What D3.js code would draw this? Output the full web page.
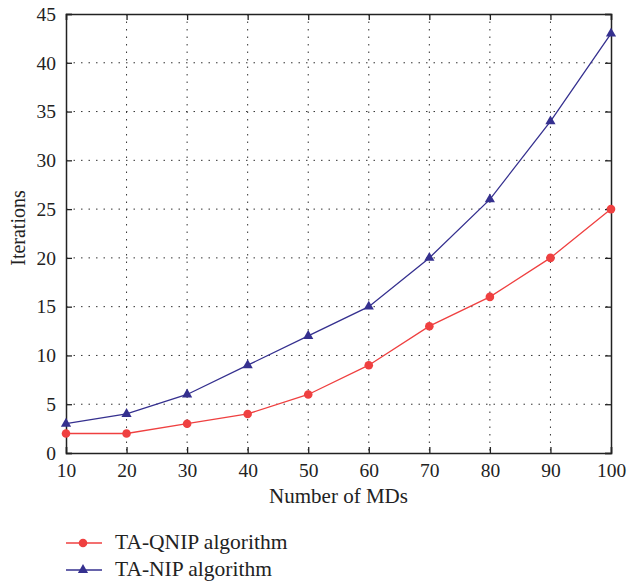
<!DOCTYPE html>
<html><head><meta charset="utf-8">
<script src="https://cdn.jsdelivr.net/npm/d3@7"></script>
<style>body{margin:0;background:#fff}svg{display:block}text{font-family:"Liberation Serif","DejaVu Serif",serif;fill:#222}</style>
</head><body>
<script>
const categories=[10,20,30,40,50,60,70,80,90,100];
const qnip=[2,2,3,4,6,9,13,16,20,25];
const nip=[3,4,6,9,12,15,20,26,34,43];
const yTicks=[0,5,10,15,20,25,30,35,40,45];
const seriesNames=["TA-QNIP algorithm","TA-NIP algorithm"];

const W=627,H=582;
const m={l:66,r:611,t:14,b:453};
const svg=d3.select("body").append("svg").attr("width",W).attr("height",H);
const x=d3.scaleLinear().domain([10,100]).range([m.l,m.r]);
const y=d3.scaleLinear().domain([0,45]).range([m.b,m.t]);

// grid
const g=svg.append("g");
categories.slice(1,-1).forEach(v=>g.append("line").attr("x1",x(v)).attr("x2",x(v)).attr("y1",m.t).attr("y2",m.b)
  .attr("stroke","#333").attr("stroke-width",1).attr("stroke-dasharray","1.5,6"));
yTicks.slice(1,-1).forEach(v=>g.append("line").attr("x1",m.l).attr("x2",m.r).attr("y1",y(v)).attr("y2",y(v))
  .attr("stroke","#333").attr("stroke-width",1).attr("stroke-dasharray","1.5,6"));

// axes
const xb=svg.append("g").attr("transform",`translate(0,${m.b})`).call(d3.axisBottom(x).tickValues(categories).tickSize(-6).tickPadding(10));
const xt=svg.append("g").attr("transform",`translate(0,${m.t})`).call(d3.axisTop(x).tickValues(categories).tickSize(-6).tickFormat(""));
const yl=svg.append("g").attr("transform",`translate(${m.l},0)`).call(d3.axisLeft(y).tickValues(yTicks).tickSize(-6).tickPadding(10));
const yr=svg.append("g").attr("transform",`translate(${m.r},0)`).call(d3.axisRight(y).tickValues(yTicks).tickSize(-6).tickFormat(""));
[xb,xt,yl,yr].forEach(a=>{a.selectAll("path").attr("stroke","#222").attr("stroke-width",1.5);
  a.selectAll("line").attr("stroke","#222").attr("stroke-width",1.3);
  a.selectAll("text").style("font-family","'Liberation Serif',serif").style("font-size","19.5px").attr("fill","#222");});

svg.append("text").attr("x",(m.l+m.r)/2).attr("y",503).attr("text-anchor","middle").style("font-size","21px").text("Number of MDs");
svg.append("text").attr("transform",`translate(25,228) rotate(-90)`).attr("text-anchor","middle").style("font-size","20px").text("Iterations");

const red="#ef4040",blue="#35308f";
const line=d3.line().x((d,i)=>x(categories[i])).y(d=>y(d));
svg.append("path").datum(qnip).attr("d",line).attr("fill","none").attr("stroke",red).attr("stroke-width",1.3);
svg.append("path").datum(nip).attr("d",line).attr("fill","none").attr("stroke",blue).attr("stroke-width",1.3);
const tri=d3.symbol().type(d3.symbolTriangle).size(45);
svg.selectAll(".q").data(qnip).enter().append("circle").attr("cx",(d,i)=>x(categories[i])).attr("cy",d=>y(d)).attr("r",4.3).attr("fill",red);
svg.selectAll(".n").data(nip).enter().append("path").attr("d",tri).attr("transform",(d,i)=>`translate(${x(categories[i])},${y(d)})`).attr("fill",blue);

// legend
const lg=[{n:seriesNames[0],c:red,t:"c",y:543},{n:seriesNames[1],c:blue,t:"t",y:570}];
lg.forEach(d=>{
  svg.append("line").attr("x1",66).attr("x2",102).attr("y1",d.y).attr("y2",d.y).attr("stroke",d.c).attr("stroke-width",1.3);
  if(d.t==="c") svg.append("circle").attr("cx",83).attr("cy",d.y).attr("r",4.3).attr("fill",d.c);
  else svg.append("path").attr("d",tri).attr("transform",`translate(83,${d.y})`).attr("fill",d.c);
  svg.append("text").attr("x",115).attr("y",d.y+6).style("font-size","21.5px").text(d.n);
});
</script>
</body></html>
